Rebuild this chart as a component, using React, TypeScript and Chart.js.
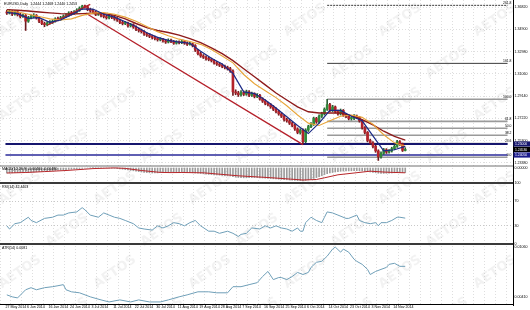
import { useEffect, useRef } from 'react';
import { Chart, registerables } from 'chart.js';

Chart.register(...registerables);

const symbolTitle = 'EURUSD,Daily  1.2444 1.2468 1.2440 1.2453';
const macdTitle = 'MACD(12,26,9) -0.00460 -0.00480';
const rsiTitle = 'RSI(14) 42.4403';
const atrTitle = 'ATR(14) 0.0081';
const watermarkText = 'AETOS';

const dateLabels = ['27 May 2014', '6 Jun 2014', '16 Jun 2014', '24 Jun 2014', '3 Jul 2014', '11 Jul 2014', '22 Jul 2014', '30 Jul 2014', '11 Aug 2014', '19 Aug 2014', '28 Aug 2014', '7 Sep 2014', '16 Sep 2014', '25 Sep 2014', '6 Oct 2014', '14 Oct 2014', '23 Oct 2014', '3 Nov 2014', '14 Nov 2014'];
const labelBars = [-0.5, 7.5, 15.5, 23.5, 31.5, 39.5, 47.5, 55.5, 63.5, 71.5, 79.5, 87.5, 95.5, 103.5, 111.5, 119.5, 127.5, 135.5, 143.5];

const opens = [
  1.3640, 1.3630, 1.3645, 1.3620, 1.3640, 1.3615, 1.3600, 1.3610, 1.3560, 1.3590,
  1.3600, 1.3610, 1.3590, 1.3560, 1.3540, 1.3530, 1.3545, 1.3550, 1.3560, 1.3580,
  1.3575, 1.3590, 1.3600, 1.3610, 1.3630, 1.3625, 1.3640, 1.3655, 1.3670, 1.3690,
  1.3685, 1.3660, 1.3650, 1.3640, 1.3620, 1.3625, 1.3610, 1.3600, 1.3590, 1.3605,
  1.3595, 1.3580, 1.3570, 1.3550, 1.3540, 1.3545, 1.3520, 1.3530, 1.3510, 1.3490,
  1.3480, 1.3470, 1.3450, 1.3440, 1.3430, 1.3420, 1.3410, 1.3400, 1.3405, 1.3390,
  1.3380, 1.3395, 1.3385, 1.3370, 1.3380, 1.3375, 1.3385, 1.3370, 1.3360, 1.3365,
  1.3350, 1.3310, 1.3280, 1.3260, 1.3250, 1.3235, 1.3230, 1.3220, 1.3200, 1.3190,
  1.3180, 1.3170, 1.3160, 1.3150, 1.3130, 1.2950, 1.2940, 1.2925, 1.2945, 1.2930,
  1.2950, 1.2920, 1.2935, 1.2910, 1.2920, 1.2890, 1.2870, 1.2850, 1.2840, 1.2820,
  1.2800, 1.2780, 1.2760, 1.2740, 1.2710, 1.2700, 1.2680, 1.2660, 1.2630, 1.2600,
  1.2620, 1.2520, 1.2620, 1.2650, 1.2670, 1.2720, 1.2690, 1.2740, 1.2760, 1.2800,
  1.2840, 1.2790, 1.2820, 1.2780, 1.2760, 1.2790, 1.2750, 1.2740, 1.2720, 1.2720,
  1.2740, 1.2730, 1.2700, 1.2640, 1.2600, 1.2530, 1.2510, 1.2480, 1.2440, 1.2390,
  1.2420, 1.2450, 1.2430, 1.2440, 1.2460, 1.2480, 1.2520, 1.2500, 1.2444,
];
const highs = [
  1.3655, 1.3660, 1.3652, 1.3650, 1.3648, 1.3628, 1.3622, 1.3618, 1.3602, 1.3615,
  1.3625, 1.3618, 1.3598, 1.3572, 1.3552, 1.3556, 1.3565, 1.3572, 1.3590, 1.3595,
  1.3602, 1.3614, 1.3625, 1.3642, 1.3645, 1.3652, 1.3668, 1.3684, 1.3698, 1.3700,
  1.3692, 1.3672, 1.3662, 1.3648, 1.3640, 1.3634, 1.3622, 1.3612, 1.3618, 1.3615,
  1.3606, 1.3592, 1.3578, 1.3562, 1.3558, 1.3552, 1.3542, 1.3538, 1.3520, 1.3502,
  1.3492, 1.3478, 1.3462, 1.3452, 1.3440, 1.3432, 1.3422, 1.3418, 1.3412, 1.3402,
  1.3408, 1.3406, 1.3394, 1.3392, 1.3390, 1.3398, 1.3394, 1.3382, 1.3378, 1.3372,
  1.3358, 1.3318, 1.3292, 1.3272, 1.3262, 1.3248, 1.3242, 1.3228, 1.3212, 1.3202,
  1.3192, 1.3182, 1.3172, 1.3162, 1.3140, 1.2968, 1.2955, 1.2960, 1.2958, 1.2965,
  1.2960, 1.2948, 1.2942, 1.2935, 1.2928, 1.2900, 1.2882, 1.2862, 1.2850, 1.2832,
  1.2812, 1.2792, 1.2772, 1.2750, 1.2722, 1.2712, 1.2692, 1.2670, 1.2640, 1.2632,
  1.2630, 1.2632, 1.2662, 1.2684, 1.2732, 1.2730, 1.2752, 1.2774, 1.2812, 1.2886,
  1.2850, 1.2834, 1.2828, 1.2792, 1.2802, 1.2798, 1.2762, 1.2752, 1.2734, 1.2754,
  1.2750, 1.2738, 1.2708, 1.2650, 1.2608, 1.2542, 1.2520, 1.2490, 1.2450, 1.2432,
  1.2462, 1.2460, 1.2452, 1.2472, 1.2492, 1.2532, 1.2530, 1.2508, 1.2468,
];
const lows = [
  1.3618, 1.3622, 1.3608, 1.3612, 1.3605, 1.3588, 1.3592, 1.3480, 1.3550, 1.3580,
  1.3590, 1.3578, 1.3548, 1.3530, 1.3512, 1.3520, 1.3535, 1.3540, 1.3552, 1.3562,
  1.3568, 1.3580, 1.3592, 1.3602, 1.3612, 1.3618, 1.3630, 1.3645, 1.3662, 1.3672,
  1.3650, 1.3638, 1.3628, 1.3608, 1.3610, 1.3598, 1.3588, 1.3578, 1.3580, 1.3582,
  1.3568, 1.3558, 1.3538, 1.3528, 1.3530, 1.3508, 1.3510, 1.3498, 1.3478, 1.3466,
  1.3458, 1.3438, 1.3428, 1.3418, 1.3406, 1.3398, 1.3388, 1.3390, 1.3378, 1.3368,
  1.3372, 1.3374, 1.3360, 1.3362, 1.3364, 1.3366, 1.3360, 1.3350, 1.3352, 1.3338,
  1.3298, 1.3268, 1.3248, 1.3238, 1.3224, 1.3218, 1.3208, 1.3190, 1.3178, 1.3168,
  1.3158, 1.3148, 1.3138, 1.3118, 1.2920, 1.2925, 1.2910, 1.2912, 1.2918, 1.2920,
  1.2908, 1.2910, 1.2898, 1.2900, 1.2878, 1.2858, 1.2838, 1.2828, 1.2808, 1.2788,
  1.2768, 1.2748, 1.2728, 1.2698, 1.2688, 1.2668, 1.2648, 1.2618, 1.2588, 1.2585,
  1.2500, 1.2510, 1.2608, 1.2640, 1.2660, 1.2678, 1.2680, 1.2728, 1.2750, 1.2790,
  1.2778, 1.2780, 1.2768, 1.2748, 1.2750, 1.2738, 1.2728, 1.2708, 1.2706, 1.2710,
  1.2718, 1.2688, 1.2628, 1.2588, 1.2518, 1.2498, 1.2466, 1.2428, 1.2358, 1.2378,
  1.2410, 1.2418, 1.2420, 1.2430, 1.2450, 1.2470, 1.2488, 1.2435, 1.2440,
];
const closes = [
  1.3630, 1.3645, 1.3620, 1.3640, 1.3615, 1.3600, 1.3610, 1.3560, 1.3590, 1.3600,
  1.3610, 1.3590, 1.3560, 1.3540, 1.3530, 1.3545, 1.3550, 1.3560, 1.3580, 1.3575,
  1.3590, 1.3600, 1.3610, 1.3630, 1.3625, 1.3640, 1.3655, 1.3670, 1.3690, 1.3685,
  1.3660, 1.3650, 1.3640, 1.3620, 1.3625, 1.3610, 1.3600, 1.3590, 1.3605, 1.3595,
  1.3580, 1.3570, 1.3550, 1.3540, 1.3545, 1.3520, 1.3530, 1.3510, 1.3490, 1.3480,
  1.3470, 1.3450, 1.3440, 1.3430, 1.3420, 1.3410, 1.3400, 1.3405, 1.3390, 1.3380,
  1.3395, 1.3385, 1.3370, 1.3380, 1.3375, 1.3385, 1.3370, 1.3360, 1.3365, 1.3350,
  1.3310, 1.3280, 1.3260, 1.3250, 1.3235, 1.3230, 1.3220, 1.3200, 1.3190, 1.3180,
  1.3170, 1.3160, 1.3150, 1.3130, 1.2950, 1.2940, 1.2925, 1.2945, 1.2930, 1.2950,
  1.2920, 1.2935, 1.2910, 1.2920, 1.2890, 1.2870, 1.2850, 1.2840, 1.2820, 1.2800,
  1.2780, 1.2760, 1.2740, 1.2710, 1.2700, 1.2680, 1.2660, 1.2630, 1.2600, 1.2620,
  1.2520, 1.2620, 1.2650, 1.2670, 1.2720, 1.2690, 1.2740, 1.2760, 1.2800, 1.2840,
  1.2790, 1.2820, 1.2780, 1.2760, 1.2790, 1.2750, 1.2740, 1.2720, 1.2720, 1.2740,
  1.2730, 1.2700, 1.2640, 1.2600, 1.2530, 1.2510, 1.2480, 1.2440, 1.2390, 1.2420,
  1.2450, 1.2430, 1.2440, 1.2460, 1.2480, 1.2520, 1.2500, 1.2445, 1.2453,
];

const maBars = [0, 4, 8, 12, 16, 20, 24, 28, 32, 36, 40, 44, 48, 52, 56, 60, 64, 68, 72, 76, 80, 84, 88, 92, 96, 100, 104, 108, 112, 116, 120, 124, 128, 132, 136, 140, 144, 148];
const maFast = [1.3635, 1.3625, 1.3585, 1.3590, 1.3550, 1.3570, 1.3615, 1.3665, 1.3665, 1.3620, 1.3595, 1.3555, 1.3515, 1.3460, 1.3420, 1.3395, 1.3380, 1.3370, 1.3300, 1.3240, 1.3190, 1.3110, 1.2950, 1.2935, 1.2880, 1.2810, 1.2735, 1.2660, 1.2590, 1.2680, 1.2790, 1.2790, 1.2740, 1.2700, 1.2570, 1.2440, 1.2450, 1.2480];
const maMid = [1.3650, 1.3640, 1.3620, 1.3600, 1.3580, 1.3570, 1.3580, 1.3610, 1.3630, 1.3635, 1.3620, 1.3595, 1.3560, 1.3515, 1.3470, 1.3435, 1.3405, 1.3385, 1.3360, 1.3315, 1.3260, 1.3200, 1.3100, 1.3020, 1.2960, 1.2900, 1.2830, 1.2750, 1.2680, 1.2660, 1.2700, 1.2740, 1.2750, 1.2730, 1.2670, 1.2580, 1.2510, 1.2480];
const maSlow = [1.3660, 1.3655, 1.3648, 1.3640, 1.3632, 1.3625, 1.3622, 1.3625, 1.3628, 1.3625, 1.3610, 1.3580, 1.3540, 1.3505, 1.3480, 1.3462, 1.3440, 1.3410, 1.3375, 1.3330, 1.3280, 1.3220, 1.3150, 1.3080, 1.3010, 1.2940, 1.2880, 1.2820, 1.2778, 1.2768, 1.2768, 1.2768, 1.2745, 1.2710, 1.2665, 1.2610, 1.2565, 1.2534];

const channelBars = [30, 110];
const channelPrices = [1.3620, 1.2495];
const riseBars = [15, 31];
const risePrices = [1.3525, 1.3705];

const supportPrices = [1.2500, 1.2405];

const fibLabels = ['0.0', '23.6', '38.2', '50.0', '61.8', '100.0', '161.8', '261.8'];
const fibPrices = [1.2385, 1.2503, 1.2576, 1.2636, 1.2695, 1.2886, 1.3196, 1.3697];
const fibStartBar = 119;

const priceTicks = [1.3682, 1.3586, 1.3490, 1.3394, 1.3298, 1.3202, 1.3106, 1.3010, 1.2914, 1.2818, 1.2722, 1.2626, 1.2530, 1.2434, 1.2338];
const priceBoxValues = [1.2500, 1.2453, 1.2405];
const priceBoxColors = ['#16166e', '#000000', '#1c1c8c'];

const macdHist = [
  -0.0050, -0.0049, -0.0048, -0.0047, -0.0046, -0.0045, -0.0044,
  -0.0046, -0.0044, -0.0042, -0.0040, -0.0038, -0.0036, -0.0034,
  -0.0032, -0.0030, -0.0028, -0.0026, -0.0024, -0.0022, -0.0020, -0.0018,
  -0.0016, -0.0014, -0.0012, -0.0010, -0.0008, -0.0006, -0.0004, -0.0002, 0.0000, 0.0002,
  0.0003, 0.0003, 0.0002, 0.0001, 0.0000, 0.0000, -0.0001, -0.0002, -0.0004, -0.0006, -0.0009, -0.0012,
  -0.0016, -0.0020, -0.0024, -0.0028, -0.0032, -0.0036, -0.0040, -0.0043, -0.0046, -0.0048, -0.0050, -0.0050, -0.0049,
  -0.0047, -0.0045, -0.0043, -0.0042, -0.0042, -0.0043, -0.0044, -0.0045, -0.0046, -0.0046, -0.0046, -0.0047, -0.0048,
  -0.0050, -0.0052, -0.0055, -0.0058, -0.0061, -0.0064, -0.0066, -0.0068, -0.0070, -0.0072, -0.0074, -0.0076, -0.0078, -0.0080, -0.0086, -0.0092,
  -0.0095, -0.0097, -0.0098, -0.0098, -0.0097, -0.0096, -0.0096, -0.0097, -0.0098, -0.0100, -0.0102, -0.0104, -0.0106, -0.0108,
  -0.0110, -0.0112, -0.0114, -0.0116, -0.0118, -0.0120, -0.0122, -0.0124, -0.0126, -0.0126, -0.0128,
  -0.0124, -0.0118, -0.0112, -0.0104, -0.0096, -0.0086, -0.0076, -0.0066, -0.0056, -0.0050, -0.0045, -0.0040,
  -0.0036, -0.0033, -0.0031, -0.0030, -0.0029, -0.0028, -0.0027, -0.0027, -0.0028, -0.0030, -0.0033, -0.0036, -0.0040,
  -0.0044, -0.0048, -0.0052, -0.0054, -0.0054, -0.0053, -0.0052, -0.0050, -0.0048, -0.0046, -0.0045, -0.0045, -0.0046,
];
const macdSigBars = [0, 7, 14, 22, 29, 32, 40, 44, 50, 57, 61, 65, 73, 86, 98, 110, 115, 118, 123, 135, 141, 148];
const macdSigValues = [-0.0050, -0.0045, -0.0036, -0.0025, -0.0012, -0.0006, 0.0001, -0.0004, -0.0025, -0.0044, -0.0046, -0.0045, -0.0048, -0.0078, -0.0097, -0.0120, -0.0115, -0.0098, -0.0068, -0.0032, -0.0042, -0.0048];
const macdTicks = [0, -0.012];

const rsiBars = [0, 1, 3, 5, 8, 9, 11, 14, 17, 19, 21, 23, 26, 28, 29, 31, 34, 36, 38, 40, 42, 44, 47, 49, 51, 54, 56, 58, 60, 62, 64, 66, 68, 70, 72, 75, 77, 79, 82, 84, 86, 87, 89, 91, 94, 96, 98, 100, 102, 104, 106, 108, 109, 110, 111, 113, 115, 117, 118, 119, 121, 123, 126, 127, 130, 131, 133, 135, 137, 138, 139, 141, 143, 145, 146, 148];
const rsiValues = [29.8, 24.6, 33.3, 35.0, 43.9, 38.6, 35.0, 42.0, 43.9, 47.4, 47.4, 50.9, 52.6, 59.6, 56.1, 47.4, 43.9, 50.9, 47.4, 43.9, 42.0, 38.6, 33.3, 26.3, 24.6, 22.8, 29.8, 26.3, 29.8, 35.0, 33.3, 29.8, 35.0, 38.6, 29.8, 21.0, 21.0, 17.5, 21.0, 17.5, 12.3, 15.8, 17.5, 26.3, 24.6, 29.8, 26.3, 29.8, 26.3, 24.6, 21.0, 26.3, 21.0, 21.0, 35.0, 43.9, 38.6, 35.0, 43.9, 52.6, 50.9, 47.4, 42.0, 42.0, 47.4, 38.6, 35.0, 33.3, 35.0, 29.8, 35.0, 35.0, 38.6, 43.9, 43.9, 42.4];
const rsiTicks = [0, 30, 70, 100];

const atrBars = [0, 2, 4, 7, 9, 11, 14, 17, 19, 21, 22, 24, 27, 31, 35, 38, 42, 46, 49, 53, 57, 60, 64, 67, 71, 75, 78, 82, 84, 87, 90, 93, 95, 97, 99, 101, 102, 104, 106, 108, 110, 112, 113, 115, 117, 119, 121, 122, 124, 125, 127, 129, 130, 132, 134, 135, 137, 139, 141, 142, 144, 146, 148];
const atrValues = [0.00433, 0.00407, 0.00393, 0.0050, 0.00527, 0.0050, 0.00527, 0.0054, 0.00553, 0.00567, 0.0050, 0.00473, 0.0046, 0.00407, 0.00367, 0.0034, 0.00367, 0.0034, 0.00367, 0.0034, 0.0034, 0.00367, 0.00407, 0.00433, 0.00473, 0.00473, 0.0046, 0.0046, 0.0054, 0.0054, 0.00567, 0.00593, 0.00673, 0.0074, 0.00633, 0.0066, 0.0066, 0.00633, 0.00673, 0.00727, 0.0070, 0.00727, 0.00793, 0.0086, 0.00873, 0.0094, 0.01033, 0.0106, 0.00993, 0.01033, 0.00993, 0.0090, 0.00873, 0.00833, 0.00767, 0.0070, 0.0074, 0.00767, 0.00793, 0.00833, 0.00847, 0.00807, 0.00807];
const atrTicks = [0.0041, 0.0106];

const FONT = 'Liberation Sans';
const X_MAX = 186;
const GRID = '#dedede';

function pts(xs: number[], ys: number[]) {
  return xs.map((x, k) => ({ x, y: ys[k] }));
}

export default function App() {
  const ref = useRef<HTMLCanvasElement | null>(null);

  useEffect(() => {
    document.body.style.margin = '0';
    const canvas = ref.current;
    if (!canvas) return;

    const barIdx = closes.map((_, i) => i);
    const gridBars: number[] = [];
    for (let v = -0.5; v <= X_MAX; v += 4) gridBars.push(v);

    const lineBase = { type: 'line' as const, xAxisID: 'x', pointRadius: 0, borderWidth: 1, fill: false, tension: 0 };

    const datasets: any[] = [
      {
        type: 'bar', xAxisID: 'x', yAxisID: 'yP', order: 6, grouped: false, barThickness: 1,
        data: barIdx.map((i) => ({ x: i, y: [lows[i], highs[i]] })),
        backgroundColor: barIdx.map((i) => (closes[i] >= opens[i] ? '#2b5e33' : '#6e1a1e')),
      },
      {
        type: 'bar', xAxisID: 'x', yAxisID: 'yP', order: 5, grouped: false, barThickness: 2, minBarLength: 1,
        data: barIdx.map((i) => ({ x: i, y: [opens[i], closes[i]] })),
        backgroundColor: barIdx.map((i) => (closes[i] >= opens[i] ? '#2f8a3a' : '#b3222a')),
      },
      { ...lineBase, yAxisID: 'yP', order: 3, data: pts(maBars, maSlow), borderColor: '#8e1b1b', borderWidth: 1.4 },
      { ...lineBase, yAxisID: 'yP', order: 2, data: pts(maBars, maMid), borderColor: '#e8a53a', borderWidth: 1.1 },
      { ...lineBase, yAxisID: 'yP', order: 1, data: pts(maBars, maFast), borderColor: '#1b2a86', borderWidth: 1.2 },
      { ...lineBase, yAxisID: 'yP', order: 4, data: pts(channelBars, channelPrices), borderColor: '#b5202a', borderWidth: 1.3 },
      { ...lineBase, yAxisID: 'yP', order: 4, data: pts(riseBars, risePrices), borderColor: '#b5202a', borderWidth: 1.3 },
      ...supportPrices.map((p, k) => ({
        ...lineBase, yAxisID: 'yP', order: 8,
        data: [{ x: -0.5, y: p }, { x: X_MAX, y: p }],
        borderColor: k === 0 ? '#16166e' : '#2a2a9a', borderWidth: k === 0 ? 2 : 1.5,
      })),
      ...fibPrices.map((p, k) => ({
        ...lineBase, yAxisID: 'yP', order: 9,
        data: [{ x: fibStartBar, y: p }, { x: X_MAX, y: p }],
        borderColor: k >= 6 ? '#3a3a3a' : '#9a9a9a', borderWidth: k >= 6 ? 1 : 1.6,
        borderDash: k === 7 ? [2, 1] : [],
      })),
      {
        type: 'bar', xAxisID: 'x', yAxisID: 'yM', order: 6, grouped: false, barThickness: 1,
        data: barIdx.map((i) => ({ x: i, y: macdHist[i] })),
        backgroundColor: '#9c9c9c',
      },
      { ...lineBase, yAxisID: 'yM', order: 1, data: pts(macdSigBars, macdSigValues), borderColor: '#b8262a', borderWidth: 1 },
      { ...lineBase, yAxisID: 'yR', order: 1, data: pts(rsiBars, rsiValues), borderColor: '#6f9fb8', borderWidth: 1 },
      { ...lineBase, yAxisID: 'yA', order: 1, data: pts(atrBars, atrValues), borderColor: '#6f9fb8', borderWidth: 1 },
    ];

    const tickFont = { size: 3.6, family: FONT };
    const yCommon = (weight: number) => ({
      type: 'linear' as const,
      position: 'right' as const,
      stack: 'panes',
      stackWeight: weight,
      afterFit: (s: any) => {
        s.width = 17;
        s.paddingTop = 0;
        s.paddingBottom = 0;
      },
      border: { display: true, color: '#000', width: 1, dash: [1, 2] },
    });

    const overlay = {
      id: 'overlay',
      beforeDatasetsDraw(chart: any) {
        const { ctx, chartArea } = chart;
        ctx.save();
        ctx.beginPath();
        ctx.rect(chartArea.left, chartArea.top, chartArea.right - chartArea.left, chartArea.bottom - chartArea.top);
        ctx.clip();
        ctx.font = `bold 13px "DejaVu Sans"`;
        ctx.fillStyle = 'rgba(140,140,140,0.11)';
        ctx.textAlign = 'center';
        ctx.textBaseline = 'middle';
        for (let r = 0; r < 8; r++) {
          for (let c = 0; c < 7; c++) {
            const cx = 20 + c * 95 + (r % 2) * 47;
            const cy = 20 + r * 42;
            ctx.save();
            ctx.translate(cx, cy);
            ctx.rotate(-0.6);
            ctx.fillText(watermarkText, 0, 0);
            ctx.restore();
          }
        }
        ctx.restore();
      },
      afterDraw(chart: any) {
        const { ctx, scales } = chart;
        const x = scales.x, yP = scales.yP, yM = scales.yM, yR = scales.yR, yA = scales.yA;
        ctx.save();
        const sep = (y: number, w: number, c: string) => {
          ctx.strokeStyle = c;
          ctx.lineWidth = w;
          ctx.beginPath();
          ctx.moveTo(x.left, y);
          ctx.lineTo(x.right, y);
          ctx.stroke();
        };
        sep(yP.bottom, 1, '#707070');
        sep(yM.bottom, 2, '#3a3a3a');
        sep(yR.bottom, 2, '#3a3a3a');
        sep(yA.bottom - 0.5, 1, '#000');

        ctx.font = `3.4px "${FONT}"`;
        ctx.fillStyle = '#000';
        ctx.textAlign = 'right';
        ctx.textBaseline = 'bottom';
        fibPrices.forEach((p: number, k: number) => {
          ctx.fillText(fibLabels[k], x.right - 1.5, yP.getPixelForValue(p) - 0.6);
        });

        ctx.textAlign = 'left';
        ctx.textBaseline = 'middle';
        priceBoxValues.forEach((p: number, k: number) => {
          const py = yP.getPixelForValue(p);
          ctx.fillStyle = priceBoxColors[k];
          ctx.fillRect(x.right + 0.5, py - 2.6, 17, 5.2);
          ctx.fillStyle = '#fff';
          ctx.fillText(p.toFixed(5), x.right + 2, py + 0.2);
        });

        ctx.fillStyle = '#000';
        ctx.font = `3.6px "${FONT}"`;
        ctx.textAlign = 'left';
        ctx.textBaseline = 'top';
        ctx.fillText(symbolTitle, 4, 2);
        ctx.fillText(macdTitle, 2, yM.top + 1.5);
        ctx.fillText(rsiTitle, 2, yR.top + 2);
        ctx.fillText(atrTitle, 2, yA.top + 2);
        ctx.restore();
      },
    };

    const chart = new Chart(canvas, {
      type: 'bar',
      data: { datasets },
      options: {
        animation: false,
        responsive: false,
        events: [],
        layout: { padding: 0 },
        plugins: { legend: { display: false }, tooltip: { enabled: false }, title: { display: false } },
        scales: {
          x: {
            type: 'linear',
            position: 'bottom',
            min: -0.5,
            max: X_MAX,
            afterBuildTicks: (s: any) => {
              s.ticks = gridBars.map((v) => ({ value: v }));
            },
            afterFit: (s: any) => {
              s.height = 5;
              s.paddingLeft = 0;
              s.paddingRight = 0;
            },
            ticks: {
              autoSkip: false,
              maxRotation: 0,
              minRotation: 0,
              align: 'start',
              padding: 0,
              color: '#000',
              font: tickFont,
              callback: (v: any) => {
                const k = labelBars.indexOf(Number(v));
                return k >= 0 ? dateLabels[k] : '';
              },
            },
            grid: { color: GRID, drawTicks: false },
            border: { display: false, dash: [1, 2] },
          },
          yP: {
            ...yCommon(166),
            min: 1.2310,
            max: 1.3743,
            afterBuildTicks: (s: any) => {
              s.ticks = priceTicks.map((v) => ({ value: v }));
            },
            ticks: { color: '#000', font: tickFont, padding: 1.5, callback: (v: any) => Number(v).toFixed(5) },
            grid: { color: GRID, drawTicks: false },
          },
          yM: {
            ...yCommon(17),
            min: -0.015,
            max: 0.002,
            afterBuildTicks: (s: any) => {
              s.ticks = macdTicks.map((v) => ({ value: v }));
            },
            ticks: { color: '#000', font: tickFont, padding: 1.5, callback: (v: any) => Number(v).toFixed(5) },
            grid: { display: false, drawTicks: false },
          },
          yR: {
            ...yCommon(61),
            min: 0,
            max: 100,
            afterBuildTicks: (s: any) => {
              s.ticks = rsiTicks.map((v) => ({ value: v }));
            },
            ticks: { color: '#000', font: tickFont, padding: 1.5, callback: (v: any) => String(v) },
            grid: {
              drawTicks: false,
              color: (c: any) => (c.tick && (c.tick.value === 30 || c.tick.value === 70) ? '#c8c8c8' : 'rgba(0,0,0,0)'),
            },
          },
          yA: {
            ...yCommon(61),
            min: 0.003,
            max: 0.011,
            afterBuildTicks: (s: any) => {
              s.ticks = atrTicks.map((v) => ({ value: v }));
            },
            ticks: { color: '#000', font: tickFont, padding: 1.5, callback: (v: any) => Number(v).toFixed(5) },
            grid: { display: false, drawTicks: false },
          },
        },
      } as any,
      plugins: [overlay],
    });

    return () => chart.destroy();
  }, []);

  return <canvas ref={ref} width={530} height={310} style={{ display: 'block' }} />;
}
